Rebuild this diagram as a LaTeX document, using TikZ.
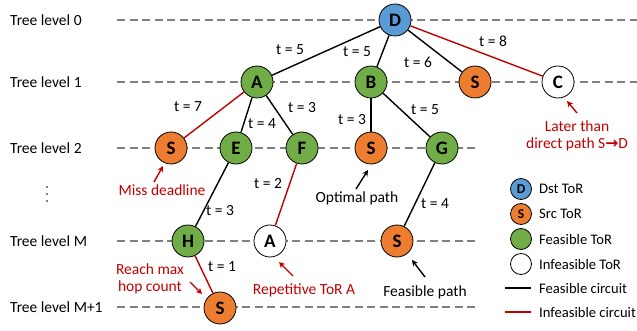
\documentclass[tikz,border=0pt]{standalone}
\usepackage{fontspec}
\setmainfont{Carlito}
\newfontfamily\dejavu{DejaVu Sans}
\usetikzlibrary{arrows.meta}
\definecolor{cblue}{HTML}{5B9BD5}
\definecolor{corange}{HTML}{ED7D31}
\definecolor{cgreen}{HTML}{70AD47}
\definecolor{cred}{HTML}{C00000}
\definecolor{cgray}{HTML}{808080}
\begin{document}
\begin{tikzpicture}[x=1pt,y=-1pt,
  tor/.style={circle,draw=black,line width=0.8pt,minimum size=32pt,inner sep=0pt,font=\fontsize{19}{19}\selectfont\bfseries},
  dst/.style={tor,fill=cblue},
  src/.style={tor,fill=corange},
  feas/.style={tor,fill=cgreen},
  infeas/.style={tor,fill=white},
  lvl/.style={dash pattern=on 8pt off 4.5pt,line width=1.4pt,draw=cgray},
  lvltext/.style={anchor=west,font=\fontsize{15.5}{15.5}\selectfont,inner sep=0pt},
  lgtext/.style={anchor=west,font=\fontsize{14.6}{14.6}\selectfont,inner sep=0pt},
  tl/.style={font=\fontsize{15.5}{15.5}\selectfont,inner sep=0pt},
  okedge/.style={draw=black,line width=1.4pt},
  badedge/.style={draw=cred,line width=1.4pt},
  ann/.style={font=\fontsize{15.5}{17.5}\selectfont,inner sep=0pt,align=center},
  annarrow/.style={line width=1.4pt,-{Stealth[length=6pt,width=6pt]}},
  lgc/.style={circle,draw=black,line width=0.8pt,minimum size=21pt,inner sep=0pt,font=\fontsize{13.5}{13.5}\selectfont\bfseries},
  vdot/.style={circle,fill=black,inner sep=0pt,minimum size=1.6pt},
]
\useasboundingbox (0,0) rectangle (637,331);

% level labels
\node[lvltext] (l0) at (10,20) {Tree level 0};
\node[lvltext] (l1) at (10,82) {Tree level 1};
\node[lvltext] (l2) at (10,148) {Tree level 2};
\node[vdot] (vd1) at (47,187) {};
\node[vdot] (vd2) at (47,194) {};
\node[vdot] (vd3) at (47,201) {};
\node[lvltext] (lM) at (10,241) {Tree level M};
\node[lvltext] (lM1) at (10,307) {Tree level M+1};

% dashed level lines
\coordinate (d0a) at (117,20);  \coordinate (d0b) at (637,20);
\coordinate (d1a) at (117,82);  \coordinate (d1b) at (637,82);
\coordinate (d2a) at (117,148); \coordinate (d2b) at (475,148);
\coordinate (dMa) at (117,241); \coordinate (dMb) at (475,241);
\coordinate (dNa) at (117,307); \coordinate (dNb) at (475,307);
\draw[lvl] (d0a) -- (d0b);
\draw[lvl] (d1a) -- (d1b);
\draw[lvl] (d2a) -- (d2b);
\draw[lvl] (dMa) -- (dMb);
\draw[lvl] (dNa) -- (dNb);

% nodes
\node[dst] (D) at (395,20) {D};
\node[feas] (A) at (257,82) {A};
\node[feas] (B) at (371,82) {B};
\node[src] (S1) at (475,82) {S};
\node[infeas] (C) at (558,82) {C};
\node[src] (S2a) at (171,148) {S};
\node[feas] (E) at (236,148) {E};
\node[feas] (F) at (302,148) {F};
\node[src] (S2b) at (371,148) {S};
\node[feas] (G) at (442,148) {G};
\node[feas] (H) at (188,241) {H};
\node[infeas] (Ar) at (270,241) {A};
\node[src] (SM) at (397,241) {S};
\node[src] (SN) at (220,308) {S};

% edges
\draw[okedge] (D) -- (A);
\draw[okedge] (D) -- (B);
\draw[okedge] (D) -- (S1);
\draw[badedge] (D) -- (C);
\draw[badedge] (A) -- (S2a);
\draw[okedge] (A) -- (E);
\draw[okedge] (A) -- (F);
\draw[okedge] (B) -- (S2b);
\draw[okedge] (B) -- (G);
\draw[okedge] (E) -- (H);
\draw[badedge] (F) -- (Ar);
\draw[okedge] (G) -- (SM);
\draw[badedge] (H) -- (SN);

% edge labels
\node[tl] (tDA) at (290,50) {t = 5};
\node[tl] (tDB) at (357,52) {t = 5};
\node[tl] (tDS) at (418,62) {t = 6};
\node[tl] (tDC) at (493,41) {t = 8};
\node[tl] (tAS) at (188,107) {t = 7};
\node[tl] (tAE) at (262,124) {t = 4};
\node[tl] (tAF) at (302,108) {t = 3};
\node[tl] (tBS) at (352,120) {t = 3};
\node[tl] (tBG) at (425,110) {t = 5};
\node[tl] (tEH) at (220,211) {t = 3};
\node[tl] (tFA) at (268,184) {t = 2};
\node[tl] (tGS) at (435,204) {t = 4};
\node[tl] (tHS) at (222,267) {t = 1};

% annotations
\node[ann,text=cred] (annC) at (577,136) {Later than\\direct path S{\dejavu\bfseries →}D};
\coordinate (tC0) at (577,113); \coordinate (tC1) at (567,101);
\draw[annarrow,cred] (tC0) -- (tC1);

\node[ann,text=cred] (annMiss) at (162,190) {Miss deadline};
\coordinate (tM0) at (154,182); \coordinate (tM1) at (163,166);
\draw[annarrow,cred] (tM0) -- (tM1);

\node[ann,text=cred] (annHop) at (150,279) {Reach max\\hop count};
\coordinate (tH0) at (190,282); \coordinate (tH1) at (202,294);
\draw[annarrow,cred] (tH0) -- (tH1);

\node[ann,text=cred] (annRep) at (304,290) {Repetitive ToR A};
\coordinate (tR0) at (293,276); \coordinate (tR1) at (279,262);
\draw[annarrow,cred] (tR0) -- (tR1);

\node[ann] (annOpt) at (357,198) {Optimal path};
\coordinate (tO0) at (356,189); \coordinate (tO1) at (368,170);
\draw[annarrow,black] (tO0) -- (tO1);

\node[ann] (annFeas) at (425,292) {Feasible path};
\coordinate (tF0) at (425,277); \coordinate (tF1) at (412,260);
\draw[annarrow,black] (tF0) -- (tF1);

% legend
\node[lgc,fill=cblue] (lgD) at (521,189) {D};
\node[lgc,fill=corange] (lgS) at (521,214) {S};
\node[lgc,fill=cgreen] (lgF) at (521,239) {};
\node[lgc,fill=white] (lgI) at (521,264) {};
\node[lgtext] (lgDt) at (539,189) {Dst ToR};
\node[lgtext] (lgSt) at (539,214) {Src ToR};
\node[lgtext] (lgFt) at (539,239) {Feasible ToR};
\node[lgtext] (lgIt) at (539,264) {Infeasible ToR};
\coordinate (lgl1a) at (505,288); \coordinate (lgl1b) at (531,288);
\coordinate (lgl2a) at (505,312); \coordinate (lgl2b) at (531,312);
\draw[okedge] (lgl1a) -- (lgl1b);
\draw[badedge] (lgl2a) -- (lgl2b);
\node[lgtext] (lgl1t) at (539,288) {Feasible circuit};
\node[lgtext] (lgl2t) at (539,312) {Infeasible circuit};
\end{tikzpicture}
\end{document}
